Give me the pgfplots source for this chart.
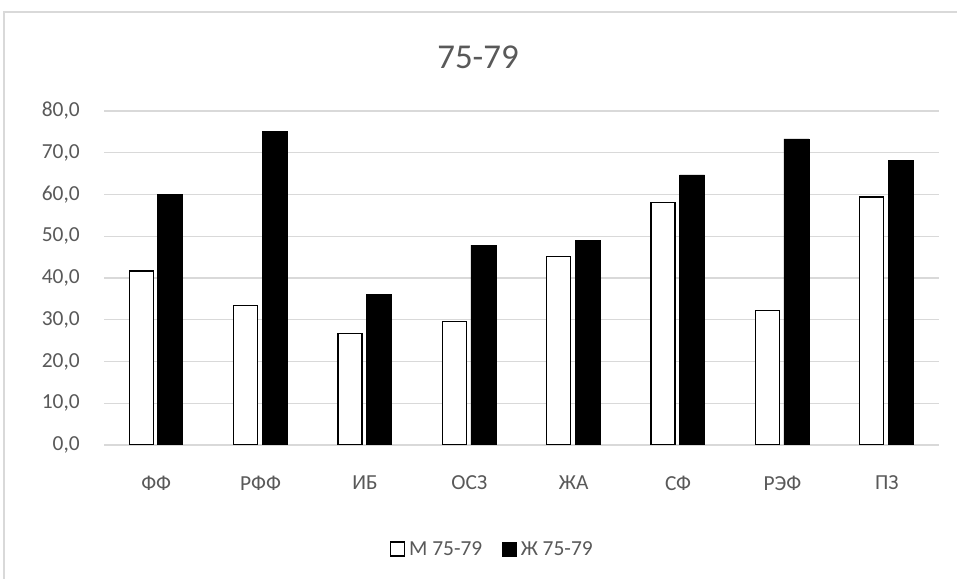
\documentclass[border=0pt]{standalone}
\usepackage{fontspec}
\setmainfont{Carlito}
\usepackage{pgfplots}
\pgfplotsset{compat=1.18}
\definecolor{txt}{HTML}{595959}
\definecolor{gridc}{HTML}{D9D9D9}
\begin{document}
\begin{tikzpicture}[x=1bp,y=1bp]
\path[use as bounding box, fill=white] (0,0) rectangle (957,579);
\draw[gridc, line width=1.3bp] (4,0) -- (4,567) -- (957,567);
\node[txt, font=\fontsize{35}{40}\selectfont] at (478,522) {75-79};
\begin{axis}[
  at={(104bp,134bp)}, anchor=south west, scale only axis,
  width=835bp, height=334bp,
  xmin=-0.5, xmax=7.5, ymin=0, ymax=80,
  xtick={0,...,7},
  xticklabels={ФФ,РФФ,ИБ,ОСЗ,ЖА,СФ,РЭФ,ПЗ},
  ytick={0,10,...,80},
  /pgf/number format/assume math mode=true,
  yticklabel={\pgfmathprintnumber[fixed,fixed zerofill,precision=1,use comma]{\tick}},
  ymajorgrids,
  grid style={gridc, line width=1.1bp},
  axis line style={draw=none},
  major tick length=0pt,
  tick style={draw=none},
  yticklabel style={anchor=east, inner sep=0pt, xshift=-24bp, font=\fontsize{21.5}{24}\selectfont, text=txt},
  xticklabel style={anchor=center, inner sep=0pt, yshift=-38bp, font=\fontsize{21.5}{24}\selectfont, text=txt},
  legend style={at={(0.465,-0.311)}, anchor=center, draw=none, fill=none,
    legend columns=2, font=\fontsize{21.5}{24}\selectfont, text=txt,
    /tikz/every even column/.append style={column sep=18bp},
    /tikz/every odd column/.append style={column sep=0bp},
    legend cell align=left, inner xsep=0pt},
  legend image code/.code={\draw[#1] (0bp,-7bp) rectangle (14bp,7bp); \path (16bp,0bp);},
]
\addplot[ybar, bar width=24bp, bar shift=-15bp, fill=white, draw=black, line width=1.3bp]
  coordinates {(0,41.7) (1,33.4) (2,26.7) (3,29.5) (4,45.1) (5,58.1) (6,32.2) (7,59.4)};
\addlegendentry{М 75-79}
\addplot[ybar, bar width=25bp, bar shift=14bp, fill=black, draw=black, line width=0.5bp]
  coordinates {(0,60.1) (1,75.1) (2,36.0) (3,47.9) (4,49.1) (5,64.7) (6,73.3) (7,68.2)};
\addlegendentry{Ж 75-79}
\end{axis}
\end{tikzpicture}
\end{document}
